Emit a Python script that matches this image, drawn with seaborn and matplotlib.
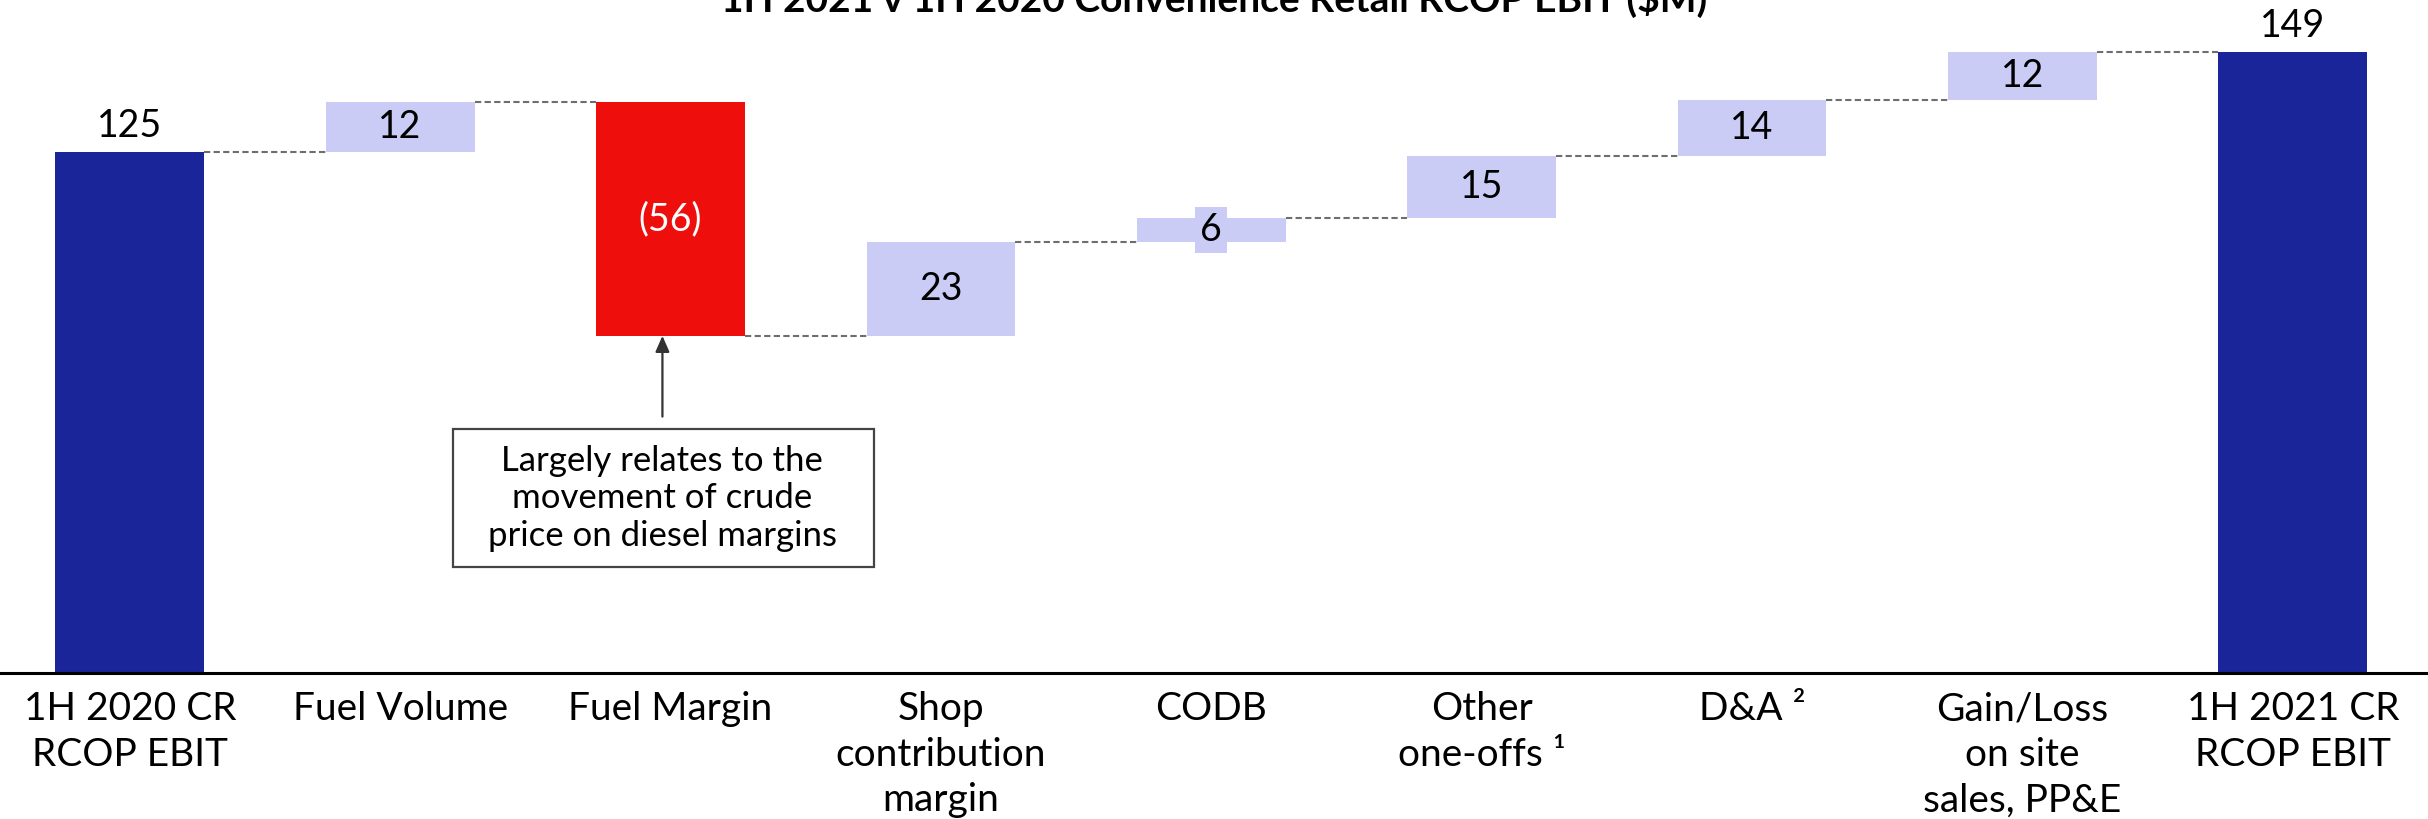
import matplotlib
matplotlib.use("Agg")
import matplotlib.pyplot as plt
from matplotlib.patches import Rectangle
import seaborn as sns
import numpy as np
import pandas as pd

# ---- data ----
categories = ["1H 2020 CR\nRCOP EBIT", "Fuel Volume", "Fuel Margin", "Shop\ncontribution\nmargin",
              "CODB", "Other\none-offs \u00b9", "D&A \u00b2", "Gain/Loss\non site\nsales, PP&E",
              "1H 2021 CR\nRCOP EBIT"]
start_value = 125.0
deltas = [12.0, -56.0, 22.6, 5.6, 15.0, 13.4, 11.4]
end_value = 149.0
value_labels = ["125", "12", "(56)", "23", "6", "15", "14", "12", "149"]
kinds = ["total", "up", "down", "up", "up", "up", "up", "up", "total"]

title = "1H 2021 v 1H 2020 Convenience Retail RCOP EBIT ($M)"
annotation_text = "Largely relates to the\nmovement of crude\nprice on diesel margins"

# ---- derived waterfall geometry ----
levels = np.concatenate([[start_value], start_value + np.cumsum(deltas)])
bottoms, heights = [0.0], [start_value]
for i, d in enumerate(deltas):
    lo = min(levels[i], levels[i + 1])
    bottoms.append(lo)
    heights.append(abs(d))
bottoms.append(0.0)
heights.append(end_value)
tops = [b + h for b, h in zip(bottoms, heights)]

DARK = "#1A259A"
RED = "#EE0E0B"
LIGHT = "#CACCF6"
color_map = {"total": DARK, "up": LIGHT, "down": RED}
colors = [color_map[k] for k in kinds]

df = pd.DataFrame({"cat": categories, "height": heights})

sns.set_theme(style="white")
plt.rcParams["font.family"] = ["Lato", "DejaVu Sans"]

fig = plt.figure(figsize=(24.28, 8.19), dpi=100)
ax = fig.add_axes([0.0, 0.178, 1.0, 0.822])

w = 0.55
sns.barplot(data=df, x="cat", y="height", hue="cat", palette=colors, legend=False,
            width=w, saturation=1, ax=ax, order=categories, hue_order=categories)

for p, b in zip(list(ax.patches), bottoms):
    p.set_y(b)
    p.set_edgecolor("none")

ax.set_xlim(-0.48, 8.5)
ax.set_ylim(0, 161.6)

# connectors
for i in range(len(categories) - 1):
    lvl = end_value if i == len(categories) - 2 else levels[i]
    ax.plot([i + w / 2, i + 1 - w / 2], [lvl, lvl], color="#6e6e6e", lw=1.5,
            ls=(0, (3, 1.6)), zorder=1)

# value labels
for i, (lab, k) in enumerate(zip(value_labels, kinds)):
    if k == "total":
        ax.annotate(lab, (i, tops[i]), xytext=(0, 6), textcoords="offset points",
                    ha="center", va="bottom", fontsize=27, color="black")
    elif k == "down":
        ax.text(i, bottoms[i] + heights[i] / 2, lab, ha="center", va="center",
                fontsize=27, color="white")
    else:
        ax.text(i, bottoms[i] + heights[i] / 2, lab, ha="center", va="center",
                fontsize=27, color="black",
                bbox=dict(boxstyle="square,pad=0.14", fc=LIGHT, ec="none"))

# annotation
ax.annotate("", xy=(1.97, levels[2]), xytext=(1.97, 61.6),
            arrowprops=dict(arrowstyle="-|>,head_length=0.8,head_width=0.35",
                            color="#333333", lw=1.6, shrinkA=0, shrinkB=0))
ax.add_patch(Rectangle((1.195, 25.4), 2.753 - 1.195, 58.6 - 25.4, fc="white",
                       ec="#444444", lw=1.6, zorder=3))
ax.text(1.97, 42.0, annotation_text, ha="center", va="center", fontsize=25,
        linespacing=1.22, color="black", zorder=4)

# axes styling
for s in ["top", "right", "left"]:
    ax.spines[s].set_visible(False)
ax.spines["bottom"].set_color("black")
ax.spines["bottom"].set_linewidth(2.2)
ax.set_yticks([])
ax.set_xlabel("")
ax.set_ylabel("")
ax.tick_params(axis="x", length=0, pad=13, labelsize=28, labelcolor="black")
for lbl in ax.get_xticklabels():
    lbl.set_linespacing(1.33)

fig.text(0.5, 0.985, title, ha="center", va="baseline", fontsize=28,
         fontweight="bold", color="black")

fig.savefig("out.png", dpi=100, facecolor="white")
